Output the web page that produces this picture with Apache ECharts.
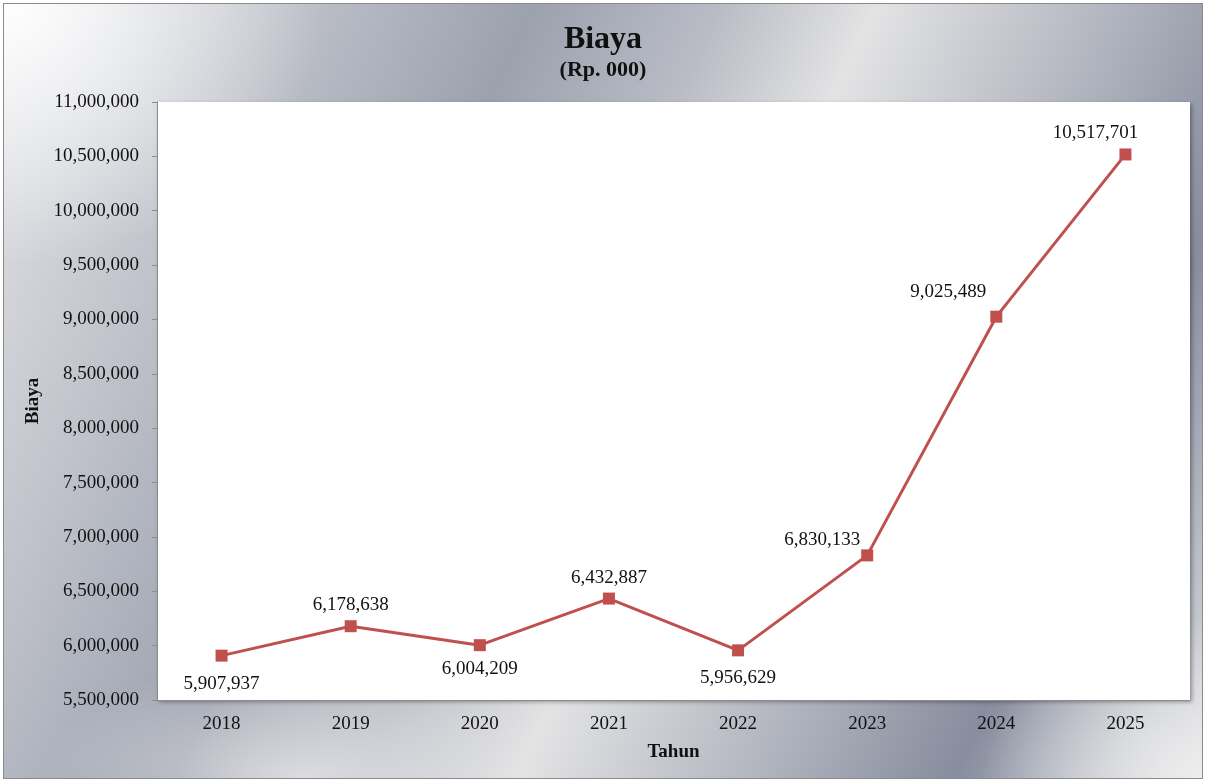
<!DOCTYPE html>
<html>
<head>
<meta charset="utf-8">
<script src="https://cdn.jsdelivr.net/npm/echarts@6/dist/echarts.min.js"></script>
<style>
html,body{margin:0;padding:0;background:#fff;}
#bg{position:absolute;left:3px;top:3px;width:1200px;height:776px;box-sizing:border-box;border:1px solid #8a8a8a;
background:
radial-gradient(ellipse 320px 260px at 0% 0%, rgba(255,255,255,0.95) 0%, rgba(255,255,255,0) 100%),
radial-gradient(ellipse 220px 160px at 100% 100%, rgba(238,238,238,0.95) 0%, rgba(238,238,238,0) 100%),
radial-gradient(ellipse 260px 120px at 25% 100%, rgba(230,230,232,0.8) 0%, rgba(230,230,232,0) 100%),
linear-gradient(115deg, #e4e5e8 0%, #bfc2ca 18%, #9ca1ae 34%, #b9bcc5 46%, #e3e3e4 56%, #c9cbd1 64%, #a9adb8 74%, #878d9e 84%, #bfc2ca 94%, #dcdcdf 100%);}
#chart{position:absolute;left:0;top:0;width:1206px;height:782px;}
</style>
</head>
<body>
<div id="bg"></div>
<div id="chart"></div>
<script>
var years = ['2018','2019','2020','2021','2022','2023','2024','2025'];
var biaya = [5907937, 6178638, 6004209, 6432887, 5956629, 6830133, 9025489, 10517701];
var yMin = 5500000, yMax = 11000000, yStep = 500000;

var labelPlacement = [
  {position:'bottom', offset:[0,8]},
  {position:'top', offset:[0,-1]},
  {position:'bottom', offset:[0,3]},
  {position:'top', offset:[0,0]},
  {position:'bottom', offset:[0,7]},
  {position:'top', offset:[-45,5]},
  {position:'top', offset:[-48,-4]},
  {position:'top', offset:[-30,-1]}
];

var fmt = function(v){ return Number(v).toLocaleString('en-US'); };
var font = '"Liberation Serif", "Times New Roman", serif';

var chart = echarts.init(document.getElementById('chart'));
chart.setOption({
  backgroundColor: 'transparent',
  textStyle: {fontFamily: font},
  title: {
    text: 'Biaya',
    subtext: '(Rp. 000)',
    left: 'center',
    top: 19,
    itemGap: 3,
    textStyle: {fontFamily: font, fontSize: 32, fontWeight: 'bold', color: '#111'},
    subtextStyle: {fontFamily: font, fontSize: 22, fontWeight: 'bold', color: '#111'}
  },
  grid: {
    left: 157, top: 102, right: 16, bottom: 82,
    show: true, backgroundColor: '#ffffff', borderWidth: 0,
    shadowColor: 'rgba(0,0,0,0.35)', shadowBlur: 4, shadowOffsetX: 2, shadowOffsetY: 2
  },
  xAxis: {
    type: 'category',
    data: years,
    boundaryGap: true,
    name: 'Tahun',
    nameLocation: 'middle',
    nameGap: 43,
    nameTextStyle: {fontFamily: font, fontSize: 19, fontWeight: 'bold', color: '#111'},
    axisLine: {lineStyle: {color: '#8c8c8c', width: 1}},
    axisTick: {show: false},
    axisLabel: {fontFamily: font, fontSize: 19, color: '#111', margin: 15}
  },
  yAxis: {
    type: 'value',
    min: yMin, max: yMax, interval: yStep,
    name: 'Biaya',
    nameLocation: 'middle',
    nameRotate: 90,
    nameGap: 112,
    nameTextStyle: {fontFamily: font, fontSize: 19, fontWeight: 'bold', color: '#111'},
    axisLine: {show: true, lineStyle: {color: '#8c8c8c', width: 1}},
    axisTick: {show: true, length: 5, lineStyle: {color: '#8c8c8c'}},
    splitLine: {show: false},
    axisLabel: {fontFamily: font, fontSize: 19, color: '#111', margin: 18, formatter: fmt}
  },
  series: [{
    type: 'line',
    data: biaya.map(function(v, i){
      return {value: v, label: {position: labelPlacement[i].position, offset: labelPlacement[i].offset}};
    }),
    symbol: 'rect',
    symbolSize: 12,
    lineStyle: {color: '#c0504d', width: 3},
    itemStyle: {color: '#c0504d'},
    label: {show: true, fontFamily: font, fontSize: 19, color: '#111', distance: 5, formatter: function(p){ return fmt(p.value); }},
    animation: false
  }]
});
</script>
</body>
</html>
